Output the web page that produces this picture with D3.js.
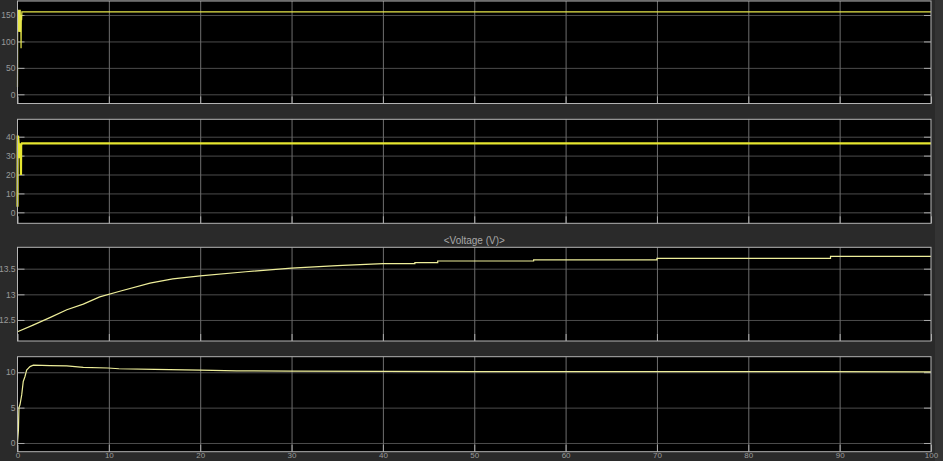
<!DOCTYPE html>
<html>
<head>
<meta charset="utf-8">
<script src="https://cdn.jsdelivr.net/npm/d3@7/dist/d3.min.js"></script>
<style>
  html, body { margin: 0; padding: 0; background: #2a2a2a; }
  svg { display: block; }
</style>
</head>
<body>
<svg id="scope" width="943" height="461"></svg>
<script>
// x axis ticks (time)
const xTicks = [0, 10, 20, 30, 40, 50, 60, 70, 80, 90, 100];

// panel 1 - speed
const t1 = [0, 0.01, 0.02, 0.04, 0.06, 0.08, 0.10, 0.12, 0.14, 0.16, 0.18, 0.20, 0.22, 0.24, 0.26, 0.28, 0.30, 0.33, 0.36, 0.39, 0.42, 0.45, 0.48, 0.5, 1, 100];
const v1 = [14, 60, 160, 122, 160, 118, 160, 130, 160, 120, 160, 125, 160, 118, 158, 130, 160, 118, 150, 87, 150, 140, 156, 156, 156, 156];
const yTicks1 = [0, 50, 100, 150];

// panel 2
const t2 = [0, 0.01, 0.02, 0.06, 0.1, 0.14, 0.18, 0.2, 0.22, 0.26, 0.3, 0.34, 0.38, 0.4, 0.44, 0.48, 0.5, 100];
const v2 = [3, 20, 40, 40, 38, 36, 36, 28.6, 36, 36, 36, 36, 19.7, 36, 36, 36.5, 36.5, 36.5];
const yTicks2 = [0, 10, 20, 30, 40];

// panel 3 - <Voltage (V)>
const t3 = [0, 1.7, 3.6, 5.4, 7.2, 9, 11.2, 14.5, 17, 20, 25, 30, 35, 40, 43.5, 43.5, 46, 46, 56.5, 56.5, 70, 70, 89, 89, 100];
const v3 = [12.27, 12.40, 12.55, 12.70, 12.81, 12.95, 13.06, 13.22, 13.30, 13.36, 13.44, 13.51, 13.56, 13.60, 13.60, 13.62, 13.62, 13.65, 13.65, 13.67, 13.67, 13.70, 13.70, 13.74, 13.74];
const yTicks3 = [12.5, 13, 13.5];

// panel 4
const t4 = [0, 0.1, 0.16, 0.27, 0.46, 0.63, 0.82, 1.0, 1.37, 1.73, 3.56, 5.39, 7.2, 9.9, 11.1, 15, 20, 24, 30, 50, 82, 88, 100];
const v4 = [0, 1.8, 5, 5.4, 6.8, 8.7, 9.4, 10.3, 10.8, 11.0, 10.95, 10.9, 10.7, 10.6, 10.5, 10.4, 10.3, 10.2, 10.15, 10.1, 10.1, 10.08, 10.05];
const yTicks4 = [0, 5, 10];

/// constants ///
const left = 17.5, right = 931;
const bgColour = "#2a2a2a";
const plotColour = "#000000";
const borderColour = "#b4b4b4";
const vGridColour = "#6e6e6e";
const hGridColour = "#4c4c4c";
const textColour = "#9a9a9a";
const tickFont = "Liberation Sans Narrow, Liberation Sans, Arial, sans-serif";

const panels = [
  { t: t1, v: v1, ticks: yTicks1, top: 1, bottom: 103.5, domain: [-17.4, 176.5], colour: "#e6e64a", width: 1.2 },
  { t: t2, v: v2, ticks: yTicks2, top: 119.3, bottom: 223.3, domain: [-5.8, 49.2], colour: "#e6e630", width: 2.2 },
  { t: t3, v: v3, ticks: yTicks3, top: 247.3, bottom: 341, domain: [12.09, 13.917], colour: "#eeee9a", width: 1.2, title: "<Voltage (V)>" },
  { t: t4, v: v4, ticks: yTicks4, top: 356.7, bottom: 451.7, domain: [-1.23, 12.2], colour: "#eeee9a", width: 1.2 }
];

const svg = d3.select("#scope");
svg.append("rect").attr("width", 943).attr("height", 461).attr("fill", bgColour);
svg.append("rect").attr("x", 935).attr("width", 8).attr("height", 461).attr("fill", "#343434");

const xScale = d3.scaleLinear().domain([0, 100]).range([left, right]);

panels.forEach((p, i) => {
  const yScale = d3.scaleLinear().domain(p.domain).range([p.bottom, p.top]);
  const g = svg.append("g");
  const h = p.bottom - p.top;

  // plot background
  g.append("rect")
    .attr("x", left).attr("y", p.top)
    .attr("width", right - left).attr("height", h)
    .attr("fill", plotColour);

  // horizontal grid
  g.append("g")
    .attr("transform", `translate(${left},0)`)
    .call(d3.axisRight(yScale).tickValues(p.ticks).tickSize(right - left).tickFormat(""))
    .call(a => a.select(".domain").remove())
    .call(a => a.selectAll("line").attr("stroke", hGridColour));

  // vertical grid
  g.append("g")
    .attr("transform", `translate(0,${p.top})`)
    .call(d3.axisBottom(xScale).tickValues(xTicks.slice(1, -1)).tickSize(h).tickFormat(""))
    .call(a => a.select(".domain").remove())
    .call(a => a.selectAll("line").attr("stroke", vGridColour));

  // inner ticks left / right / bottom
  g.append("g")
    .attr("transform", `translate(${left},0)`)
    .call(d3.axisRight(yScale).tickValues(p.ticks).tickSize(7).tickFormat(""))
    .call(a => a.select(".domain").remove())
    .call(a => a.selectAll("line").attr("stroke", "#a8a8a8"));
  g.append("g")
    .attr("transform", `translate(${right},0)`)
    .call(d3.axisLeft(yScale).tickValues(p.ticks).tickSize(7).tickFormat(""))
    .call(a => a.select(".domain").remove())
    .call(a => a.selectAll("line").attr("stroke", "#a8a8a8"));
  g.append("g")
    .attr("transform", `translate(0,${p.bottom})`)
    .call(d3.axisTop(xScale).tickValues(xTicks).tickSize(7).tickFormat(""))
    .call(a => a.select(".domain").remove())
    .call(a => a.selectAll("line").attr("stroke", "#a8a8a8"));

  // y tick labels
  g.append("g")
    .attr("transform", `translate(${left},0)`)
    .call(d3.axisLeft(yScale).tickValues(p.ticks).tickSize(0).tickPadding(2).tickFormat(d => d))
    .call(a => a.select(".domain").remove())
    .call(a => a.selectAll("text")
      .attr("fill", textColour)
      .attr("font-family", tickFont)
      .attr("font-size", "8.5px"));

  // the signal
  const line = d3.line()
    .x(j => xScale(p.t[j]))
    .y(j => yScale(p.v[j]));
  g.append("path")
    .attr("d", line(d3.range(p.t.length)))
    .attr("fill", "none")
    .attr("stroke", p.colour)
    .attr("stroke-width", p.width)
    .attr("stroke-linejoin", "miter");

  // border
  g.append("rect")
    .attr("x", left).attr("y", p.top)
    .attr("width", right - left).attr("height", h)
    .attr("fill", "none")
    .attr("stroke", borderColour)
    .attr("stroke-width", 1);

  if (p.title) {
    g.append("text")
      .attr("x", (left + right) / 2)
      .attr("y", p.top - 3)
      .attr("text-anchor", "middle")
      .attr("fill", "#a8a8a8")
      .attr("font-family", "Liberation Sans, Arial, sans-serif")
      .attr("font-size", "10px")
      .text(p.title);
  }

  // x tick labels under the last panel
  if (i === panels.length - 1) {
    g.append("g")
      .attr("transform", `translate(0,${p.bottom})`)
      .call(d3.axisBottom(xScale).tickValues(xTicks).tickSize(0).tickPadding(1))
      .call(a => a.select(".domain").remove())
      .call(a => a.selectAll("text")
        .attr("fill", textColour)
        .attr("font-family", tickFont)
        .attr("font-size", "8px"));
  }
});
</script>
</body>
</html>
